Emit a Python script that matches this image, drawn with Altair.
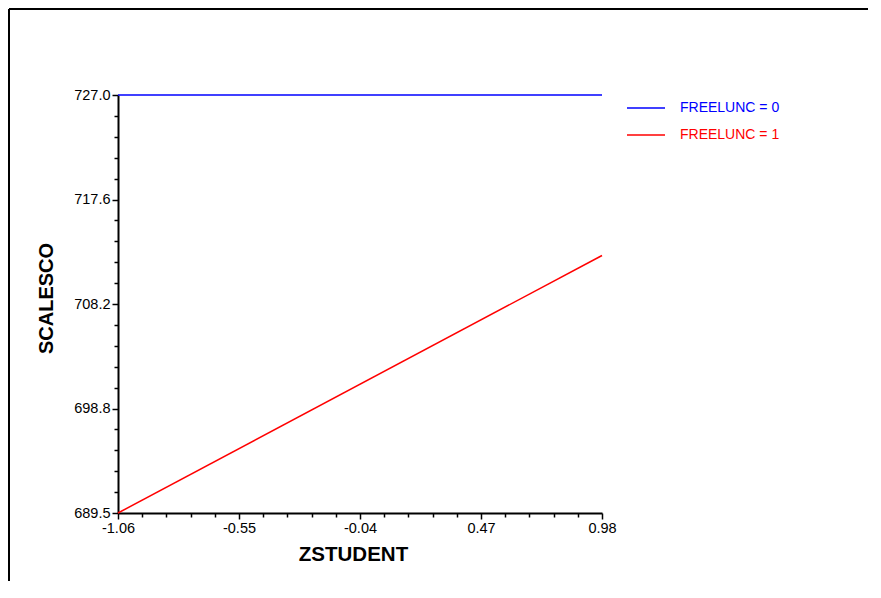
import altair as alt
import pandas as pd

# ---- data ----
x_vals = [-1.06, 0.98]
y_freelunc0 = [727.0, 727.0]
y_freelunc1 = [689.5, 712.6]
series_names = ["FREELUNC = 0", "FREELUNC = 1"]
series_colors = ["#0000ff", "#ff0000"]
x_ticks = [-1.06, -0.55, -0.04, 0.47, 0.98]
x_tick_labels = ["-1.06", "-0.55", "-0.04", "0.47", "0.98"]
y_ticks = [689.5, 698.875, 708.25, 717.625, 727.0]
y_tick_labels = ["689.5", "698.8", "708.2", "717.6", "727.0"]
x_title = "ZSTUDENT"
y_title = "SCALESCO"

rows = []
for name, ys in zip(series_names, [y_freelunc0, y_freelunc1]):
    for x, y in zip(x_vals, ys):
        rows.append({"ZSTUDENT": x, "SCALESCO": y, "series": name})
df = pd.DataFrame(rows)


def minor(vals, n=5):
    out = []
    for a, b in zip(vals[:-1], vals[1:]):
        for k in range(1, n):
            out.append(a + (b - a) * k / n)
    return out


def label_expr(vals, labels):
    expr = "''"
    for v, l in reversed(list(zip(vals, labels))):
        expr = f"abs(datum.value - ({v})) < 1e-6 ? '{l}' : ({expr})"
    return expr


color_expr = "''"
for n, c in reversed(list(zip(series_names, series_colors))):
    color_expr = f"datum.label == '{n}' ? '{c}' : ({color_expr})"

W, H = 484, 418
PAD = {"left": 110, "top": 87, "right": 266, "bottom": 68}
FONT = "Liberation Sans"

xs = alt.Scale(domain=[x_ticks[0], x_ticks[-1]], nice=False, zero=False)
ys = alt.Scale(domain=[y_ticks[0], y_ticks[-1]], nice=False, zero=False)

common_axis = dict(grid=False, domainColor="black", tickColor="black",
                   labelColor="black", titleColor="black", tickWidth=1.5)

lines = alt.Chart(df).mark_line(strokeWidth=1.5).encode(
    x=alt.X("ZSTUDENT:Q", scale=xs, axis=alt.Axis(
        values=x_ticks, labelExpr=label_expr(x_ticks, x_tick_labels),
        title=x_title, titleFontSize=20.5, titleFontWeight="bold",
        titleX=235, titleY=47, titleAlign="center", titleBaseline="alphabetic",
        tickSize=6, labelPadding=2, labelFlush=False, labelFontSize=14.5,
        labelOverlap=False, domainWidth=2, orient="bottom", **common_axis)),
    y=alt.Y("SCALESCO:Q", scale=ys, axis=alt.Axis(
        values=y_ticks, labelExpr=label_expr(y_ticks, y_tick_labels),
        title=y_title, titleFontSize=20, titleFontWeight="bold",
        titleX=-65.5, titleY=203, titleAngle=270, titleAlign="center",
        titleBaseline="alphabetic",
        tickSize=6, labelPadding=2, labelFontSize=14.5, labelOverlap=False,
        domainWidth=2, orient="left", **common_axis)),
    color=alt.Color("series:N",
                    scale=alt.Scale(domain=series_names, range=series_colors),
                    legend=alt.Legend(title=None, orient="none", legendX=508, legendY=-7,
                                      symbolType="stroke", symbolSize=1444,
                                      symbolStrokeWidth=1.5, labelFontSize=14,
                                      labelOffset=14, rowPadding=-12, padding=0,
                                      labelColor={"expr": color_expr})),
)

minor_layer = alt.Chart(df).mark_point(opacity=0).encode(
    x=alt.X("ZSTUDENT:Q", scale=xs, axis=alt.Axis(
        values=minor(x_ticks), labels=False, domain=False, tickSize=4,
        title=None, orient="bottom", **common_axis)),
    y=alt.Y("SCALESCO:Q", scale=ys, axis=alt.Axis(
        values=minor(y_ticks), labels=False, domain=False, tickSize=4,
        title=None, orient="left", **common_axis)),
)

frame_data = alt.Data(values=[{"k": 0}])
frame_top = alt.Chart(frame_data).mark_rule(color="black", strokeWidth=2).encode(
    x=alt.value(-PAD["left"] + 1), x2=alt.value(W + PAD["right"]),
    y=alt.value(-PAD["top"] + 1))
frame_left = alt.Chart(frame_data).mark_rule(color="black", strokeWidth=2).encode(
    x=alt.value(-PAD["left"] + 1), y=alt.value(-PAD["top"] + 1),
    y2=alt.value(H + PAD["bottom"]))

chart = alt.layer(frame_top, frame_left, lines, minor_layer).resolve_axis(
    x="independent", y="independent"
).properties(
    width=W, height=H,
    autosize=alt.AutoSizeParams(type="none"),
    padding=PAD,
).configure(font=FONT).configure_view(stroke=None)

chart.save("out.html", embed_options={"renderer": "svg", "actions": False})
